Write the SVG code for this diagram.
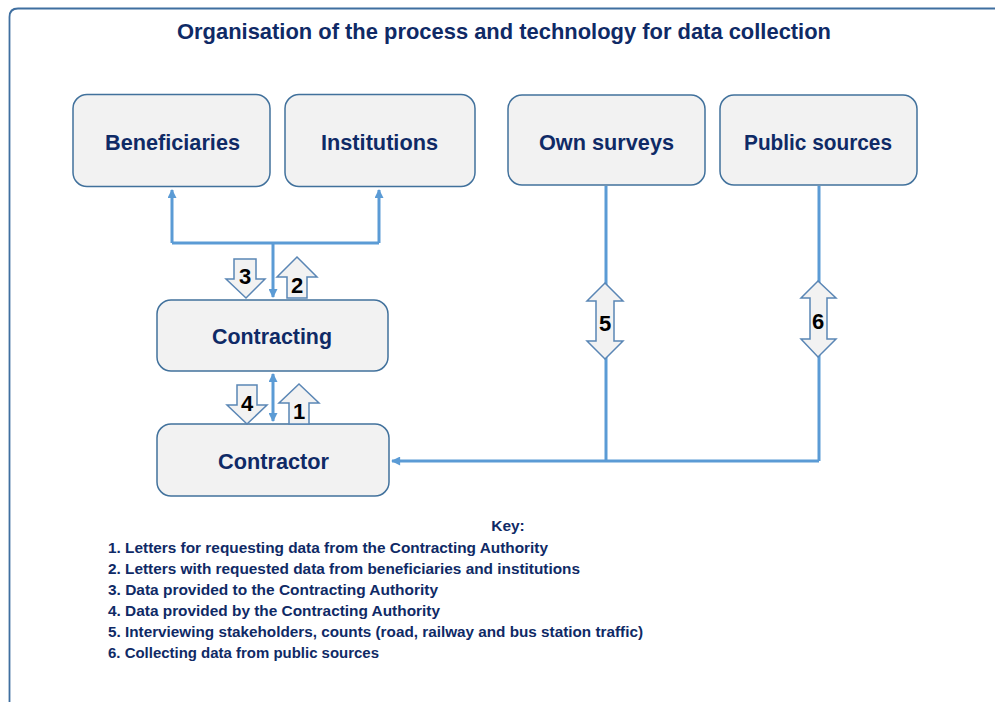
<svg xmlns="http://www.w3.org/2000/svg" width="995" height="702" viewBox="0 0 995 702">
<defs>
<style>
.box{fill:#f2f2f2;stroke:#41719c;stroke-width:1.5}
.lbl{font-family:"Liberation Sans",Arial,sans-serif;font-weight:bold;font-size:22px;fill:#0f2a66;text-anchor:middle}
.title{font-family:"Liberation Sans",Arial,sans-serif;font-weight:bold;font-size:22px;fill:#0f2a66;text-anchor:middle}
.key{font-family:"Liberation Sans",Arial,sans-serif;font-weight:bold;font-size:15.5px;fill:#0f2a66}
.conn{fill:none;stroke:#5b9bd5;stroke-width:3}
.blk{fill:#f2f2f2;stroke:#5a86b5;stroke-width:1.5;stroke-linejoin:miter}
.num{font-family:"Liberation Sans",Arial,sans-serif;font-weight:bold;font-size:22px;fill:#000;text-anchor:middle}
</style>
<marker id="ah" viewBox="0 0 10 10" refX="9" refY="5" markerWidth="10" markerHeight="9" markerUnits="userSpaceOnUse" orient="auto-start-reverse">
<path d="M0,0 L10,5 L0,10 z" fill="#5b9bd5"/>
</marker>
</defs>
<rect width="995" height="702" fill="#fff"/>
<path d="M9.5,702 V17 Q9.5,8.5 18,8.5 H995" fill="none" stroke="#3f6fa0" stroke-width="1.8"/>
<text class="title" x="504" y="39" textLength="654" lengthAdjust="spacingAndGlyphs">Organisation of the process and technology for data collection</text>

<g id="connectors">
<path class="conn" d="M273,243 V297" marker-end="url(#ah)"/>
<path class="conn" d="M172,243 H379"/>
<path class="conn" d="M172,243 V190" marker-end="url(#ah)"/>
<path class="conn" d="M379,243 V190" marker-end="url(#ah)"/>
<path class="conn" d="M273,374 V421" marker-start="url(#ah)" marker-end="url(#ah)"/>
<path class="conn" d="M606,186 V461"/>
<path class="conn" d="M819,186 V461"/>
<path class="conn" d="M819,461 H392" marker-end="url(#ah)"/>
</g>

<g id="beneficiaries"><rect class="box" x="73" y="94.5" width="197" height="92" rx="14"/><text class="lbl" x="172.5" y="150" textLength="135" lengthAdjust="spacingAndGlyphs">Beneficiaries</text></g>
<g id="institutions"><rect class="box" x="285" y="94.5" width="190" height="92" rx="14"/><text class="lbl" x="379.5" y="150" textLength="117" lengthAdjust="spacingAndGlyphs">Institutions</text></g>
<g id="own-surveys"><rect class="box" x="508" y="95" width="197" height="90" rx="14"/><text class="lbl" x="606.5" y="150" textLength="135" lengthAdjust="spacingAndGlyphs">Own surveys</text></g>
<g id="public-sources"><rect class="box" x="720" y="95" width="197" height="90" rx="14"/><text class="lbl" x="818" y="150" textLength="148" lengthAdjust="spacingAndGlyphs">Public sources</text></g>
<g id="contracting"><rect class="box" x="157" y="300" width="231" height="71" rx="14"/><text class="lbl" x="272" y="344" textLength="120" lengthAdjust="spacingAndGlyphs">Contracting</text></g>
<g id="contractor"><rect class="box" x="157" y="424" width="232" height="72" rx="14"/><text class="lbl" x="273.5" y="469" textLength="111" lengthAdjust="spacingAndGlyphs">Contractor</text></g>

<g id="arrow-3"><path class="blk" d="M234,259 H256 V279 H265 L246,298 L226,279 H234 Z"/><text class="num" x="245" y="284">3</text></g>
<g id="arrow-2"><path class="blk" d="M297,257 L317,277 H307 V298 H287 V277 H277 Z"/><text class="num" x="297" y="293">2</text></g>
<g id="arrow-4"><path class="blk" d="M237,385 H257 V405 H267 L247,424 L227,405 H237 Z"/><text class="num" x="247" y="411">4</text></g>
<g id="arrow-1"><path class="blk" d="M299,384 L319,403 H309 V424 H289 V403 H279 Z"/><text class="num" x="299" y="419">1</text></g>
<g id="arrow-5"><path class="blk" d="M605,283 L623,301 H614 V341 H623 L605,359 L587,341 H596 V301 H587 Z"/><text class="num" x="605" y="331">5</text></g>
<g id="arrow-6"><path class="blk" d="M818,281 L836,298 H827 V339 H836 L818,357 L801,339 H810 V298 H801 Z"/><text class="num" x="818" y="329">6</text></g>

<g id="key">
<text class="key" x="508" y="531" text-anchor="middle">Key:</text>
<text class="key" x="108" y="553" textLength="440" lengthAdjust="spacingAndGlyphs">1. Letters for requesting data from the Contracting Authority</text>
<text class="key" x="108" y="574" textLength="472" lengthAdjust="spacingAndGlyphs">2. Letters with requested data from beneficiaries and institutions</text>
<text class="key" x="108" y="595" textLength="330" lengthAdjust="spacingAndGlyphs">3. Data provided to the Contracting Authority</text>
<text class="key" x="108" y="616" textLength="332" lengthAdjust="spacingAndGlyphs">4. Data provided by the Contracting Authority</text>
<text class="key" x="108" y="637" textLength="535" lengthAdjust="spacingAndGlyphs">5. Interviewing stakeholders, counts (road, railway and bus station traffic)</text>
<text class="key" x="108" y="658" textLength="271" lengthAdjust="spacingAndGlyphs">6. Collecting data from public sources</text>
</g>
</svg>
